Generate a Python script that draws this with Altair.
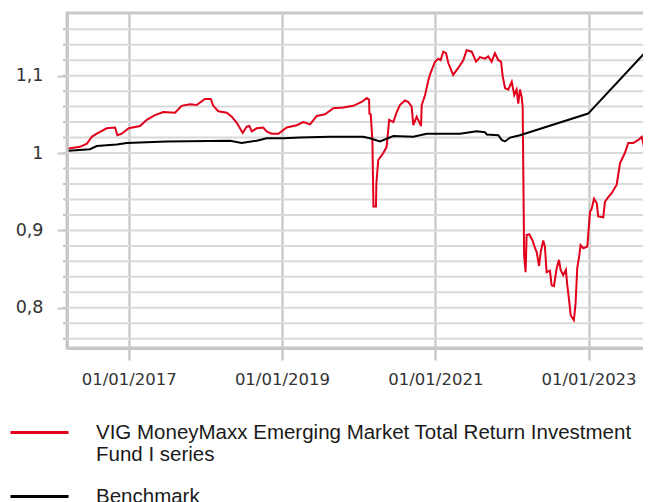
import altair as alt
import pandas as pd

fund_name = "VIG MoneyMaxx Emerging Market Total Return Investment Fund I series"
bench_name = "Benchmark"

fund_dates = [
    "2016-03-21", "2016-05-14", "2016-06-16", "2016-07-09", "2016-08-02", "2016-09-18",
    "2016-10-28", "2016-11-08", "2016-11-29", "2017-01-01", "2017-02-24", "2017-03-28",
    "2017-05-06", "2017-06-15", "2017-08-10", "2017-09-10", "2017-10-20", "2017-11-21",
    "2017-12-30", "2018-01-27", "2018-02-08", "2018-03-04", "2018-04-13", "2018-05-07",
    "2018-05-31", "2018-06-28", "2018-07-17", "2018-07-30", "2018-08-10", "2018-09-03",
    "2018-10-04", "2018-10-20", "2018-11-13", "2018-12-15", "2019-01-24", "2019-03-12",
    "2019-04-13", "2019-05-15", "2019-06-16", "2019-07-25", "2019-09-03", "2019-10-20",
    "2019-12-07", "2020-01-16", "2020-02-09", "2020-02-20", "2020-02-22", "2020-02-28",
    "2020-03-07", "2020-03-12", "2020-03-24", "2020-03-26", "2020-04-04", "2020-04-15",
    "2020-04-28", "2020-05-14", "2020-05-26", "2020-06-15", "2020-07-01", "2020-07-16",
    "2020-08-09", "2020-08-25", "2020-09-10", "2020-09-18", "2020-10-04", "2020-10-16",
    "2020-10-25", "2020-10-28", "2020-11-13", "2020-11-28", "2020-12-06", "2020-12-30",
    "2021-01-15", "2021-01-26", "2021-02-08", "2021-02-21", "2021-03-04", "2021-03-27",
    "2021-04-20", "2021-05-14", "2021-05-30", "2021-06-23", "2021-07-14", "2021-08-02",
    "2021-08-25", "2021-09-10", "2021-09-26", "2021-10-12", "2021-10-28", "2021-11-10",
    "2021-11-18", "2021-11-29", "2021-12-14", "2021-12-31", "2022-01-12", "2022-01-23",
    "2022-01-31", "2022-02-08", "2022-02-16", "2022-02-21", "2022-02-28", "2022-03-07",
    "2022-03-12", "2022-03-24", "2022-04-09", "2022-04-21", "2022-04-29", "2022-05-10",
    "2022-05-18", "2022-05-30", "2022-06-07", "2022-06-15", "2022-07-01", "2022-07-09",
    "2022-07-20", "2022-08-02", "2022-08-13", "2022-08-21", "2022-09-02", "2022-09-15",
    "2022-09-21", "2022-10-01", "2022-10-08", "2022-10-23", "2022-10-31", "2022-11-08",
    "2022-11-18", "2022-11-24", "2022-12-07", "2022-12-26", "2023-01-01", "2023-01-08",
    "2023-01-16", "2023-01-27", "2023-02-09", "2023-02-16", "2023-03-12", "2023-03-20",
    "2023-04-05", "2023-04-21", "2023-05-15", "2023-05-31", "2023-06-23", "2023-07-09",
    "2023-08-02", "2023-08-26", "2023-09-11", "2023-09-22", "2023-09-27", "2023-10-12",
    "2023-10-20",
]
fund_values = [
    1.006, 1.008, 1.012, 1.021, 1.025, 1.032,
    1.033, 1.023, 1.025, 1.032, 1.035, 1.043,
    1.049, 1.053, 1.052, 1.061, 1.063, 1.062,
    1.070, 1.070, 1.061, 1.054, 1.052, 1.047,
    1.039, 1.026, 1.034, 1.035, 1.028, 1.032,
    1.033, 1.028, 1.025, 1.025, 1.033, 1.036,
    1.040, 1.037, 1.048, 1.050, 1.058, 1.059,
    1.061, 1.066, 1.071, 1.069, 1.051, 1.050,
    1.017, 0.931, 0.931, 0.961, 0.991, 0.995,
    1.000, 1.008, 1.043, 1.040, 1.053, 1.062,
    1.068, 1.066, 1.060, 1.036, 1.047, 1.040,
    1.035, 1.062, 1.075, 1.093, 1.101, 1.118,
    1.122, 1.120, 1.131, 1.129, 1.116, 1.101,
    1.110, 1.120, 1.133, 1.131, 1.118, 1.124,
    1.122, 1.125, 1.118, 1.129, 1.120, 1.118,
    1.099, 1.084, 1.082, 1.092, 1.075, 1.082,
    1.064, 1.082, 1.073, 1.060, 0.868, 0.846,
    0.894, 0.895, 0.887, 0.877, 0.872, 0.854,
    0.872, 0.887, 0.879, 0.846, 0.848, 0.829,
    0.828, 0.851, 0.862, 0.849, 0.842, 0.849,
    0.831, 0.808, 0.790, 0.784, 0.805, 0.851,
    0.868, 0.881, 0.877, 0.879, 0.900, 0.924,
    0.928, 0.941, 0.935, 0.918, 0.917, 0.937,
    0.943, 0.948, 0.959, 0.987, 1.000, 1.013,
    1.013, 1.017, 1.021, 1.008, 0.995, 0.995,
    1.023,
]

bench_dates = [
    "2016-03-21", "2016-06-30", "2016-08-02", "2016-11-05", "2016-12-22", "2017-07-01",
    "2018-04-29", "2018-06-23", "2018-09-03", "2018-10-20", "2019-01-08", "2019-03-27",
    "2019-08-17", "2020-01-22", "2020-02-25", "2020-04-12", "2020-06-15", "2020-09-18",
    "2020-11-21", "2021-01-07", "2021-04-28", "2021-07-17", "2021-08-25", "2021-09-03",
    "2021-10-28", "2021-11-13", "2021-11-29", "2021-12-23", "2022-02-08", "2022-12-30",
    "2023-10-25",
]
bench_values = [
    1.003, 1.005, 1.009, 1.011, 1.013, 1.015,
    1.016, 1.013, 1.016, 1.019, 1.019, 1.020,
    1.021, 1.021, 1.019, 1.015, 1.022, 1.021,
    1.025, 1.025, 1.025, 1.028, 1.027, 1.024,
    1.023, 1.017, 1.015, 1.020, 1.023, 1.051,
    1.138,
]

grid_values = [0.76, 0.78, 0.80, 0.82, 0.84, 0.86, 0.88, 0.90, 0.92, 0.94, 0.96, 0.98,
               1.00, 1.02, 1.04, 1.06, 1.08, 1.10, 1.12, 1.14, 1.16]
y_major = [0.8, 0.9, 1.0, 1.1]
x_major_years = [2017, 2019, 2021, 2023]

lines_df = pd.DataFrame({
    "date": pd.to_datetime(fund_dates + bench_dates),
    "value": fund_values + bench_values,
    "series": [fund_name] * len(fund_dates) + [bench_name] * len(bench_dates),
})
grid_df = pd.DataFrame({"value": grid_values})

yscale = alt.Scale(domain=[0.748, 1.181], nice=False, zero=False)
xscale = alt.Scale(domain=[alt.DateTime(year=2016, month=3, date=13),
                           alt.DateTime(year=2023, month=11, date=4)], nice=False)

y_axis = alt.Axis(
    values=y_major,
    title=None,
    grid=False,
    tickSize=10,
    tickWidth=2,
    tickColor="#c8c8c8",
    domainColor="#c8c8c8",
    domainWidth=3,
    labelFont="DejaVu Sans",
    labelFontSize=17.5,
    labelColor="#333333",
    labelPadding=14,
    labelExpr="replace(format(datum.value, '.1~f'), '.', ',')",
)

x_axis = alt.Axis(
    values=[alt.DateTime(year=y, month=1, date=1) for y in x_major_years],
    format="%d/%m/%Y",
    title=None,
    grid=True,
    gridColor="#cccccc",
    gridWidth=2.5,
    tickSize=12,
    tickWidth=2.5,
    tickColor="#c8c8c8",
    domainColor="#c8c8c8",
    domainWidth=3,
    labelFont="DejaVu Sans",
    labelFontSize=16.5,
    labelColor="#333333",
    labelPadding=11,
    labelFlush=False,
    labelOverlap=False,
)

grid = alt.Chart(grid_df).mark_rule(color="#dadada", strokeWidth=2).encode(
    y=alt.Y("value:Q", scale=yscale, axis=y_axis)
)
minor = alt.Chart(grid_df).mark_rule(color="#c8c8c8", strokeWidth=2).encode(
    y=alt.Y("value:Q", scale=yscale, axis=y_axis),
    x=alt.value(-4),
    x2=alt.value(0),
)

label_expr_legend = (
    "datum.label == 'Benchmark' ? 'Benchmark' : "
    "['VIG MoneyMaxx Emerging Market Total Return Investment', 'Fund I series']"
)

lines = alt.Chart(lines_df).mark_line(strokeWidth=2).encode(
    x=alt.X("date:T", scale=xscale, axis=x_axis),
    y=alt.Y("value:Q", scale=yscale, axis=y_axis),
    color=alt.Color(
        "series:N",
        scale=alt.Scale(domain=[fund_name, bench_name], range=["#e2001a", "#000000"]),
        legend=alt.Legend(
            orient="none",
            legendX=-58,
            legendY=389,
            direction="vertical",
            title=None,
            symbolType="stroke",
            symbolSize=3364,
            symbolStrokeWidth=3,
            labelFont="Liberation Sans",
            labelFontSize=20.5,
            labelColor="#1a1a1a",
            labelOffset=26,
            labelLimit=800,
            rowPadding=-1,
            padding=0,
            labelExpr=label_expr_legend,
        ),
    ),
)

chart = (
    alt.layer(grid, minor, lines)
    .properties(
        width=586,
        height=335,
        autosize=alt.AutoSizeParams(type="none"),
        padding={"left": 59, "top": 5, "right": -10, "bottom": 154},
    )
    .configure_view(stroke="#c8c8c8", strokeWidth=3)
)

chart.save("out.html", embed_options={"renderer": "svg", "actions": False})
